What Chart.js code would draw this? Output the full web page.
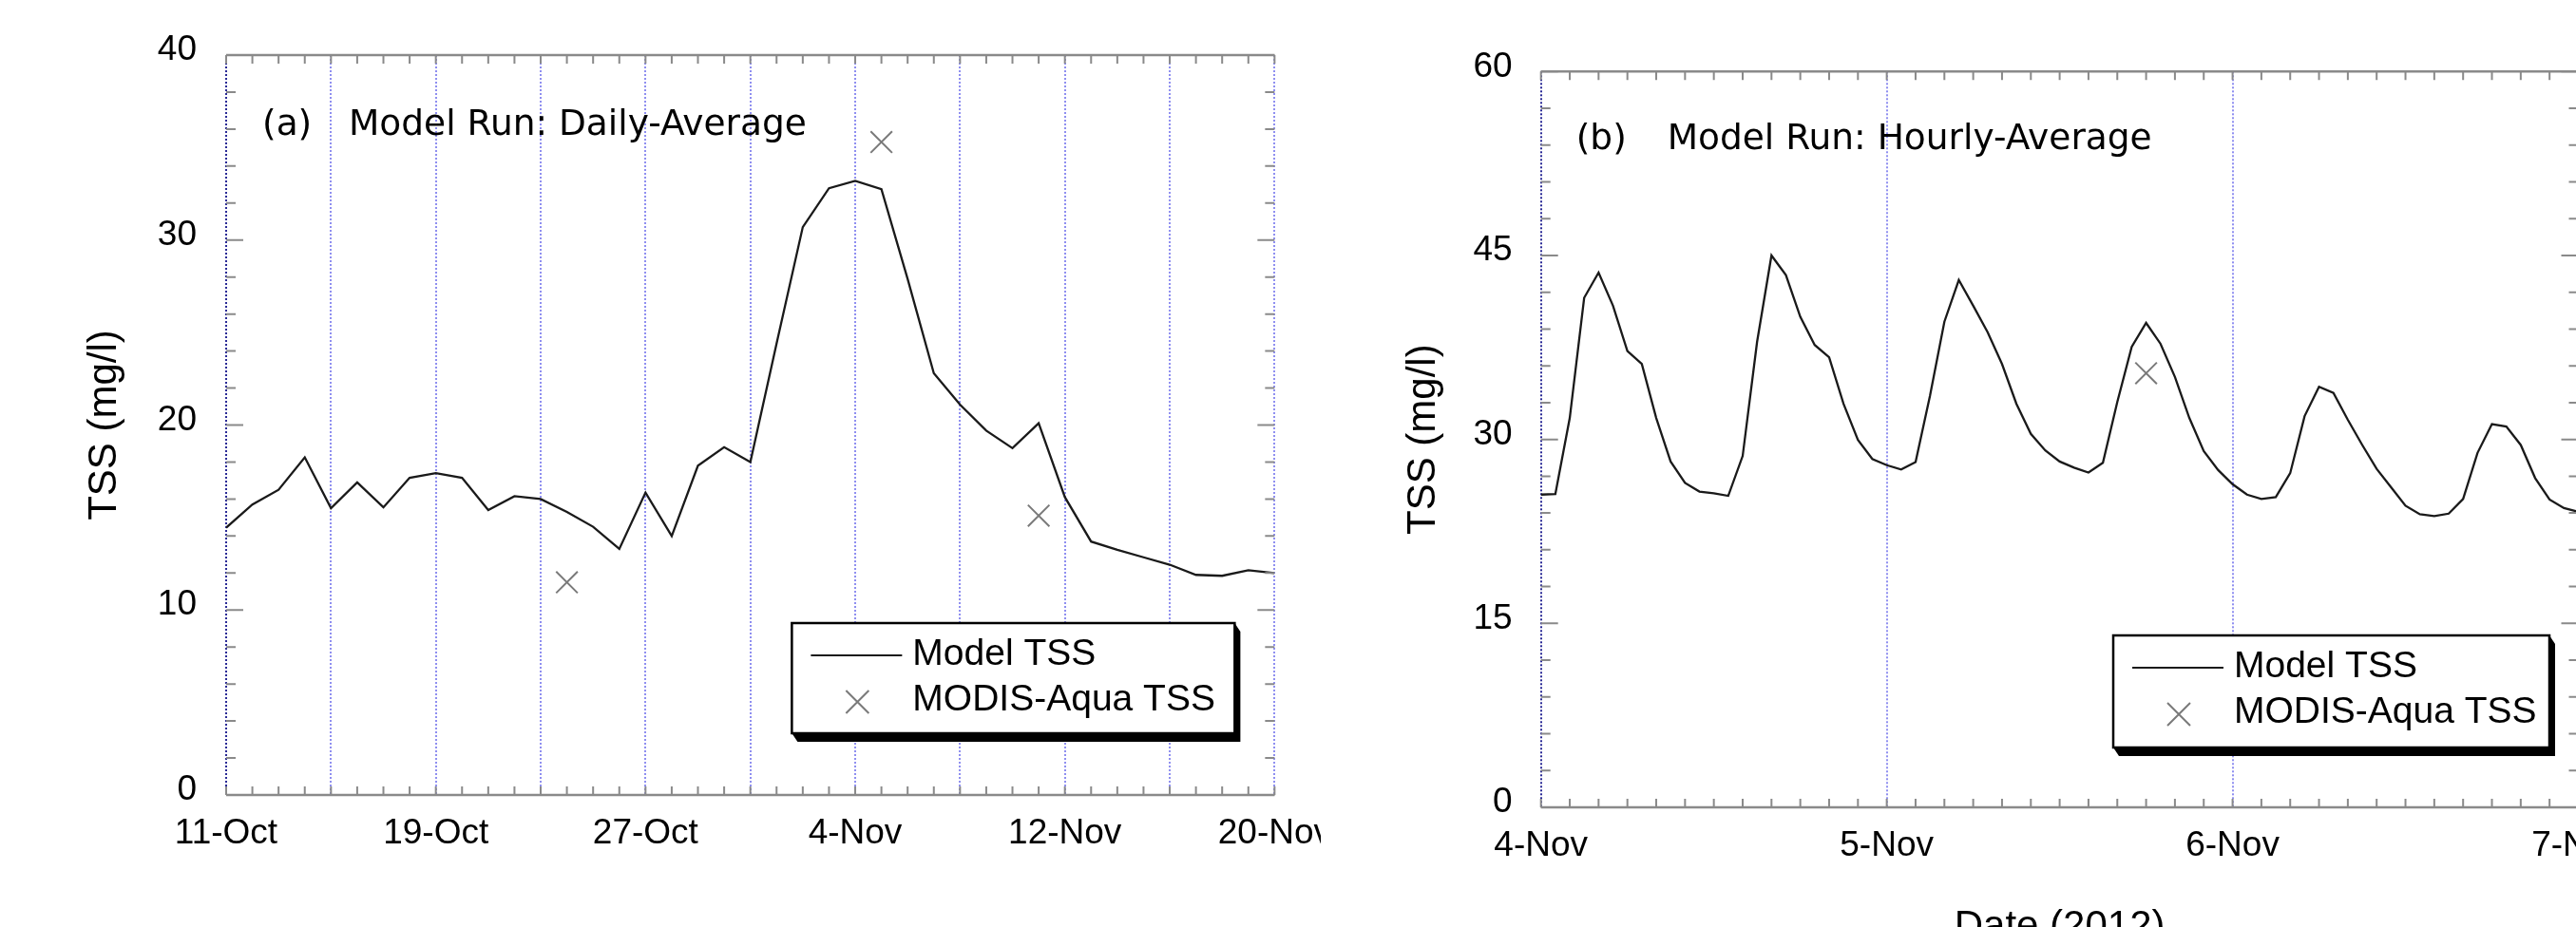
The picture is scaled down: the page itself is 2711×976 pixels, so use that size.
<!DOCTYPE html>
<html>
<head>
    <title>TSS model vs MODIS-Aqua</title>
    <script src="https://cdn.jsdelivr.net/npm/chart.js"></script>
    <style type="text/css">
        html, body {
            margin: 0;
            padding: 0;
            background: #fff;
            width: 2711px;
            height: 976px;
            overflow: hidden;
        }
        .clip {
            position: absolute;
            top: 0;
            overflow: hidden;
        }
        .box {
            position: relative;
        }
    </style>
</head>
<body>
    <div class="clip" style="left:0;width:1390px;height:976px;">
        <div class="box" style="width:1420px;height:976px;"><canvas id="panel-a"></canvas></div>
    </div>
    <div class="clip" style="left:1400px;width:1311px;height:976px;">
        <div class="box" style="width:1400px;height:1010px;"><canvas id="panel-b"></canvas></div>
    </div>

    <script type="text/javascript">
        // (a) daily averages, one value per day from 11-Oct to 20-Nov
        const dayLabelsA = ['11-Oct', '19-Oct', '27-Oct', '4-Nov', '12-Nov', '20-Nov'];
        const tssDaily = [
            14.45, 15.7, 16.5, 18.25, 15.5, 16.9, 15.55, 17.15, 17.4, 17.15,
            15.4, 16.15, 16.0, 15.3, 14.5, 13.3, 16.35, 14.0, 17.8, 18.8,
            18.0, 24.4, 30.7, 32.8, 33.2, 32.75, 27.9, 22.8, 21.1, 19.7,
            18.75, 20.1, 16.1, 13.7, 13.25, 12.85, 12.45, 11.9, 11.85, 12.15,
            12.0
        ];
        // satellite passes: 24-Oct, 5-Nov, 11-Nov (days after 11-Oct)
        const modisDayA = [13, 25, 31];
        const modisTssA = [11.5, 35.3, 15.1];

        // (b) hourly averages from 4-Nov 00:00 to 7-Nov 00:00
        const dayLabelsB = ['4-Nov', '5-Nov', '6-Nov', '7-Nov'];
        const tssHourly = [
            25.5, 25.55, 31.75, 41.55, 43.6, 40.9, 37.2, 36.15, 31.75, 28.2,
            26.45, 25.75, 25.6, 25.4, 28.65, 37.95, 45.0, 43.4, 40.0, 37.7,
            36.7, 32.9, 29.95, 28.4, 27.9, 27.55, 28.15, 33.55, 39.6, 43.0,
            40.9, 38.75, 36.15, 32.9, 30.45, 29.1, 28.2, 27.7, 27.3, 28.1,
            33.05, 37.55, 39.5, 37.8, 35.1, 31.75, 29.05, 27.5, 26.35, 25.5,
            25.15, 25.3, 27.25, 31.9, 34.3, 33.8, 31.6, 29.55, 27.6, 26.1,
            24.6, 23.9, 23.75, 23.95, 25.15, 28.9, 31.25, 31.05, 29.55, 26.85,
            25.1, 24.4, 24.1
        ];
        // 5-Nov 18:00 (hours after 4-Nov 00:00)
        const modisHourB = [42];
        const modisTssB = [35.4];

        Chart.defaults.font.family = "'Liberation Sans', Arial, sans-serif";
        Chart.defaults.color = '#000';

        // inward tick marks on all four sides + top/bottom frame
        const frameTicks = {
            id: 'frameTicks',
            afterDatasetsDraw(chart, args, o) {
                const {ctx, chartArea: a, scales: {x, y}} = chart;
                ctx.save();
                ctx.strokeStyle = '#8a8a8a';
                ctx.lineWidth = 2.5;
                ctx.beginPath();
                ctx.moveTo(a.left, a.top); ctx.lineTo(a.right, a.top);
                ctx.moveTo(a.left, a.bottom); ctx.lineTo(a.right, a.bottom);
                ctx.stroke();
                ctx.lineWidth = 2;
                ctx.beginPath();
                for (let v = x.min; v <= x.max + 1e-6; v += o.xMinor) {
                    const px = x.getPixelForValue(v);
                    ctx.moveTo(px, a.top); ctx.lineTo(px, a.top + 9);
                    ctx.moveTo(px, a.bottom); ctx.lineTo(px, a.bottom - 9);
                }
                for (let v = y.min; v <= y.max + 1e-6; v += o.yMinor) {
                    const py = y.getPixelForValue(v);
                    const len = v % o.yMajor === 0 ? 18 : 10;
                    ctx.moveTo(a.left, py); ctx.lineTo(a.left + len, py);
                    ctx.moveTo(a.right, py); ctx.lineTo(a.right - len, py);
                }
                ctx.stroke();
                ctx.restore();
            }
        };

        // panel tag, run title and the boxed legend
        const panelDeco = {
            id: 'panelDeco',
            afterDraw(chart, args, o) {
                const {ctx, chartArea: a} = chart;
                ctx.save();
                ctx.fillStyle = '#000';
                ctx.textBaseline = 'middle';
                ctx.font = "37.5px 'DejaVu Sans', sans-serif";
                ctx.fillText(o.tag, a.left + o.tagDx, a.top + o.titleDy);
                ctx.fillText(o.title, a.left + o.titleDx, a.top + o.titleDy);

                const bx = a.right + o.boxDx, by = a.bottom + o.boxDy;
                const w = o.boxW, h = o.boxH, dx = 6, dy = 9;
                ctx.fillStyle = '#000';
                ctx.beginPath();
                ctx.moveTo(bx + w, by);
                ctx.lineTo(bx + w + dx, by + dy);
                ctx.lineTo(bx + w + dx, by + h + dy);
                ctx.lineTo(bx + dx, by + h + dy);
                ctx.lineTo(bx, by + h);
                ctx.closePath();
                ctx.fill();
                ctx.fillStyle = '#fff';
                ctx.fillRect(bx, by, w, h);
                ctx.strokeStyle = '#000';
                ctx.lineWidth = 2.5;
                ctx.strokeRect(bx, by, w, h);

                const model = chart.data.datasets[0], sat = chart.data.datasets[1];
                ctx.lineWidth = 2;
                ctx.strokeStyle = model.borderColor;
                ctx.beginPath();
                ctx.moveTo(bx + 20, by + 34); ctx.lineTo(bx + 116, by + 34);
                ctx.stroke();
                ctx.strokeStyle = sat.borderColor;
                ctx.beginPath();
                ctx.moveTo(bx + 57, by + 71); ctx.lineTo(bx + 81, by + 95);
                ctx.moveTo(bx + 81, by + 71); ctx.lineTo(bx + 57, by + 95);
                ctx.stroke();
                ctx.fillStyle = '#000';
                ctx.font = "39px 'Liberation Sans', Arial, sans-serif";
                ctx.fillText(model.label, bx + 127, by + 33);
                ctx.fillText(sat.label, bx + 127, by + 81);
                ctx.restore();
            }
        };

        function makePanel(id, p) {
            const lineData = p.values.map((v, i) => ({x: i, y: v}));
            const satData = p.satX.map((xv, i) => ({x: xv, y: p.satY[i]}));
            return new Chart(document.getElementById(id), {
                type: 'line',
                data: {
                    datasets: [{
                        label: 'Model TSS',
                        data: lineData,
                        borderColor: '#1a1a1a',
                        borderWidth: 2.3,
                        pointRadius: 0,
                        tension: 0
                    }, {
                        label: 'MODIS-Aqua TSS',
                        data: satData,
                        showLine: false,
                        pointStyle: 'crossRot',
                        pointRadius: 16,
                        borderColor: '#7a7a7a',
                        borderWidth: 2
                    }]
                },
                plugins: [frameTicks, panelDeco],
                options: {
                    responsive: true,
                    maintainAspectRatio: false,
                    animation: false,
                    layout: {padding: p.padding},
                    plugins: {
                        legend: {display: false},
                        tooltip: {enabled: false},
                        frameTicks: {xMinor: p.xMinor, yMinor: p.yMinor, yMajor: p.yStep},
                        panelDeco: p.deco
                    },
                    scales: {
                        x: {
                            type: 'linear',
                            min: 0,
                            max: p.xMax,
                            afterFit: (s) => { s.height = p.xHeight; },
                            ticks: {
                                stepSize: p.xGrid,
                                autoSkip: false,
                                maxRotation: 0,
                                minRotation: 0,
                                padding: 19,
                                font: {size: 37},
                                callback: (v) => v % p.xLabelEvery === 0 ? p.xLabels[v / p.xLabelEvery] : ''
                            },
                            grid: {
                                drawTicks: false,
                                lineWidth: 2,
                                color: (c) => c.tick && c.tick.value === 0 ? '#2a2a96' : '#8f8ff0'
                            },
                            border: {display: false, dash: [2, 2]},
                            title: {
                                display: !!p.xTitle,
                                text: p.xTitle,
                                font: {size: 42},
                                padding: {top: 0, bottom: 8}
                            }
                        },
                        y: {
                            min: 0,
                            max: p.yMax,
                            afterFit: (s) => { s.width = p.yWidth; },
                            ticks: {
                                stepSize: p.yStep,
                                padding: p.yPad,
                                labelOffset: -5,
                                font: {size: 37}
                            },
                            grid: {display: false, drawTicks: false},
                            border: {display: false},
                            title: {
                                display: true,
                                text: 'TSS (mg/l)',
                                font: {size: 42},
                                padding: {top: p.yTitlePad, bottom: 0}
                            }
                        }
                    }
                }
            });
        }

        makePanel('panel-a', {
            values: tssDaily, satX: modisDayA, satY: modisTssA,
            xMax: 40, xGrid: 4, xLabelEvery: 8, xLabels: dayLabelsA, xMinor: 1, xHeight: 139,
            yMax: 40, yStep: 10, yMinor: 2, yWidth: 238, yPad: 31, yTitlePad: 85,
            padding: {left: 0, right: 72, top: 58, bottom: 0},
            deco: {tag: '(a)', title: 'Model Run: Daily-Average', tagDx: 38, titleDx: 129, titleDy: 74,
                   boxDx: -508, boxDy: -181, boxW: 466, boxH: 116}
        });

        makePanel('panel-b', {
            values: tssHourly, satX: modisHourB, satY: modisTssB,
            xMax: 72, xGrid: 24, xLabelEvery: 24, xLabels: dayLabelsB, xMinor: 2, xHeight: 160,
            xTitle: 'Date (2012)',
            yMax: 60, yStep: 15, yMinor: 3, yWidth: 221.7, yPad: 30, yTitlePad: 73,
            padding: {left: 0, right: 86.5, top: 75.3, bottom: 0},
            deco: {tag: '(b)', title: 'Model Run: Hourly-Average', tagDx: 37, titleDx: 133, titleDy: 72,
                   boxDx: -489.5, boxDy: -181, boxW: 459, boxH: 118}
        });
    </script>
</body>
</html>
